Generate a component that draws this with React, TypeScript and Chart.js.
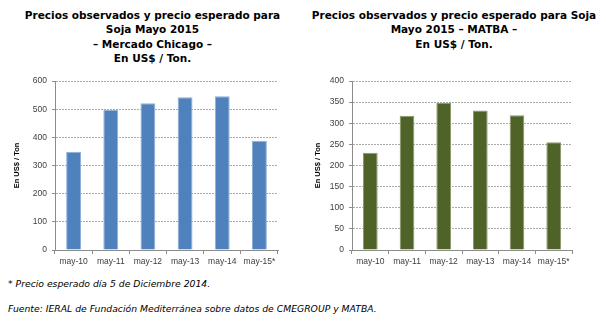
import React, { useEffect, useRef } from "react";
import { Chart, registerables } from "chart.js";

Chart.register(...registerables);

const categories = ["may-10", "may-11", "may-12", "may-13", "may-14", "may-15*"];
const chicagoValues = [349, 498, 521, 542, 546, 388];
const matbaValues = [230, 318, 348, 330, 319, 255];
const chicagoMax = 600;
const chicagoStep = 100;
const matbaMax = 400;
const matbaStep = 50;

const titleLeft = ["Precios observados y precio esperado para", "Soja Mayo 2015", "– Mercado Chicago –", "En US$ / Ton."];
const titleRight = ["Precios observados y precio esperado para Soja", "Mayo 2015 – MATBA –", "En US$ / Ton."];
const yTitle = "En US$ / Ton";
const note1 = "* Precio esperado día 5 de Diciembre 2014.";
const note2 = "Fuente: IERAL de Fundación Mediterránea sobre datos de CMEGROUP y MATBA.";

type BarProps = {
  values: number[];
  color: string;
  edge: string;
  max: number;
  step: number;
  leftWidth: number;
  rightPad: number;
  titleOffset: number;
};

function BarChart({ values, color, edge, max, step, leftWidth, rightPad, titleOffset }: BarProps) {
  const ref = useRef<HTMLCanvasElement | null>(null);
  useEffect(() => {
    if (!ref.current) return;
    const chart = new Chart(ref.current, {
      type: "bar",
      data: {
        labels: categories,
        datasets: [
          {
            data: values,
            backgroundColor: color,
            borderColor: edge,
            borderWidth: 1,
            borderSkipped: "bottom",
            categoryPercentage: 1,
            barPercentage: 0.4,
          },
        ],
      },
      options: {
        responsive: false,
        animation: false,
        layout: { padding: { left: 0, right: rightPad, top: 11, bottom: 0 } },
        plugins: { legend: { display: false }, tooltip: { enabled: false } },
        scales: {
          x: {
            grid: { drawOnChartArea: false, drawTicks: true, tickLength: 4, color: "#8c8c8c", offset: true },
            border: { color: "#8c8c8c", width: 1 },
            ticks: {
              color: "#404040",
              padding: 3,
              font: { family: "Liberation Sans", size: 8.5 },
              maxRotation: 0,
              autoSkip: false,
            },
            afterFit: (s: any) => {
              s.height = 20;
            },
          },
          y: {
            min: 0,
            max: max,
            grid: {
              color: "#ababab",
              tickColor: "#8c8c8c",
              tickLength: 3,
              borderDash: [2, 1],
              tickBorderDash: [],
            } as any,
            border: { color: "#8c8c8c", width: 1, dash: [2, 1] } as any,
            ticks: {
              stepSize: step,
              color: "#404040",
              padding: 5,
              font: { family: "Liberation Sans", size: 8.5 },
            },
            title: {
              display: true,
              text: yTitle,
              color: "#000",
              font: { family: "Liberation Sans", size: 7.5, weight: "bold" },
              padding: { top: titleOffset, bottom: 0 },
            },
            afterFit: (s: any) => {
              s.width = leftWidth;
            },
          },
        },
      },
    });
    return () => chart.destroy();
  }, []);
  return <canvas ref={ref} width={300} height={200} style={{ width: 300, height: 200, display: "block" }} />;
}

const titleStyle: React.CSSProperties = {
  position: "absolute",
  top: 8,
  textAlign: "center",
  fontFamily: "'DejaVu Sans', sans-serif",
  fontWeight: "bold",
  fontSize: 10.5,
  lineHeight: "14.3px",
  color: "#000",
  whiteSpace: "nowrap",
};

const noteStyle: React.CSSProperties = {
  position: "absolute",
  left: 8,
  fontFamily: "'DejaVu Sans', sans-serif",
  fontStyle: "italic",
  fontSize: 9.25,
  lineHeight: "12px",
  color: "#000",
  whiteSpace: "nowrap",
};

export default function App() {
  return (
    <div style={{ position: "absolute", left: 0, top: 0, width: 606, height: 324, background: "#fff", overflow: "hidden" }}>
      <div style={{ ...titleStyle, left: 0, width: 305 }}>
        {titleLeft.map((t, i) => (
          <div key={i}>{t}</div>
        ))}
      </div>
      <div style={{ ...titleStyle, left: 303, width: 302 }}>
        {titleRight.map((t, i) => (
          <div key={i}>{t}</div>
        ))}
      </div>
      <div style={{ position: "absolute", left: 0, top: 70 }}>
        <BarChart values={chicagoValues} color="#4F81BD" edge="#8FB0DA" max={chicagoMax} step={chicagoStep} leftWidth={55} rightPad={22} titleOffset={12} />
      </div>
      <div style={{ position: "absolute", left: 303, top: 70 }}>
        <BarChart values={matbaValues} color="#4F6228" edge="#8A9A6A" max={matbaMax} step={matbaStep} leftWidth={49} rightPad={31} titleOffset={10} />
      </div>
      <div style={{ ...noteStyle, top: 278 }}>{note1}</div>
      <div style={{ ...noteStyle, top: 303 }}>{note2}</div>
    </div>
  );
}
